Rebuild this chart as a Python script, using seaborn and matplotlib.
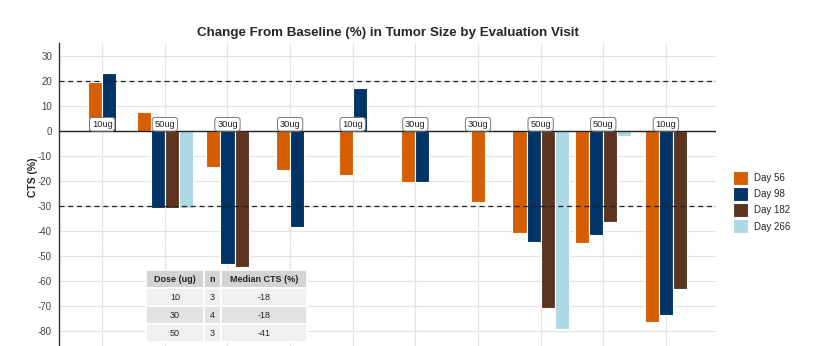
import numpy as np
import pandas as pd
import matplotlib
matplotlib.use("Agg")
import matplotlib.pyplot as plt
import seaborn as sns

# ---- data ----
doses = ["10ug", "50ug", "30ug", "30ug", "10ug", "30ug", "30ug", "50ug", "50ug", "10ug"]
days = ["Day 56", "Day 98", "Day 182", "Day 266"]
day56 = [19.5, 7.7, -14.3, -15.6, -17.5, -20.5, -28.4, -40.7, -44.9, -76.5]
day98 = [23.1, -30.9, -53.3, -38.3, 17.3, -20.5, np.nan, -44.4, -41.7, -73.5]
day182 = [np.nan, -30.9, -54.5, np.nan, np.nan, np.nan, np.nan, -70.7, -36.3, -63.3]
day266 = [np.nan, -30.9, np.nan, np.nan, np.nan, np.nan, np.nan, -79.1, -2.0, np.nan]
colors = ["#D55E00", "#003366", "#5C3420", "#ADD8E6"]
y_ticks = list(range(-80, 31, 10))
thresholds = [20, -30]
tbl_cols = ["Dose (ug)", "n", "Median CTS (%)"]
tbl_dose = ["10", "30", "50"]
tbl_n = ["3", "4", "3"]
tbl_median = ["-18", "-18", "-41"]

series = [day56, day98, day182, day266]
slot = 0.225
rows = []
for i in range(len(doses)):
    present = [k for k in range(len(days)) if not np.isnan(series[k][i])]
    n = len(present)
    for r, k in enumerate(present):
        rows.append({"x": (i + 1) + (r - (n - 1) / 2) * slot,
                     "value": series[k][i], "day": days[k]})
df = pd.DataFrame(rows)

sns.set_theme(style="whitegrid")
plt.rcParams["font.family"] = ["Liberation Sans", "DejaVu Sans"]

fig = plt.figure(figsize=(8.15, 3.46), dpi=100)
ax = fig.add_axes([59 / 815, 0.0, (716 - 59) / 815, 1 - 43 / 346])

sns.barplot(data=df, x="x", y="value", hue="day", hue_order=days,
            palette=colors, saturation=1, native_scale=True, dodge=False,
            width=1.0, edgecolor="white", linewidth=0.8, ax=ax,
            errorbar=None, zorder=3)

ax.set_xlim(0.31, 10.8)
ax.set_ylim(-86, 35.2)
ax.set_xticks(range(1, len(doses) + 1))
ax.set_xticklabels([])
ax.set_yticks(y_ticks)
ax.set_yticklabels([str(v) for v in y_ticks], fontsize=7, color="#444444")
ax.tick_params(axis="y", length=3, color="#444444", width=0.8, pad=2)
ax.tick_params(axis="x", length=0)
ax.grid(True, color="#e3e3e3", linewidth=0.9, zorder=0)
ax.set_axisbelow(True)
for s in ["top", "right", "bottom"]:
    ax.spines[s].set_visible(False)
ax.spines["left"].set_color("#333333")
ax.spines["left"].set_linewidth(1.0)

ax.axhline(0, color="#222222", linewidth=1.0, zorder=4)
for t in thresholds:
    ax.axhline(t, color="#222222", linewidth=0.9, linestyle=(0, (4, 3)), zorder=4)

for i, d in enumerate(doses):
    ax.text(i + 1, 0.9, d, ha="center", va="bottom", fontsize=6.7, zorder=6,
            bbox=dict(boxstyle="round,pad=0.25,rounding_size=0.3",
                      facecolor="white", edgecolor="#777777", linewidth=0.7))

ax.set_xlabel("")
ax.set_ylabel("CTS (%)", fontsize=7.5, fontweight="bold")
ax.yaxis.set_label_coords(-0.032, 0.558)
ax.set_title("Change From Baseline (%) in Tumor Size by Evaluation Visit",
             fontsize=9.6, fontweight="bold", pad=5)

sns.move_legend(ax, "center left", bbox_to_anchor=(1.012, 0.475), frameon=False,
                title=None, fontsize=7, handlelength=1.55, handleheight=1.85,
                labelspacing=0.22, handletextpad=0.6)

# summary table
cell_text = [[a, b, c] for a, b, c in zip(tbl_dose, tbl_n, tbl_median)]
tab = ax.table(cellText=cell_text, colLabels=tbl_cols, cellLoc="center",
               colWidths=[0.354, 0.106, 0.528],
               bbox=[(146 - 59) / 657, (346 - 342) / 303,
                     (307 - 146) / 657, (342 - 270) / 303])
tab.auto_set_font_size(False)
tab.set_fontsize(6.5)
tab.set_zorder(7)
row_bg = ["#d4d4d4", "#f0f0f0", "#e2e2e2", "#f0f0f0"]
for (r, c), cell in tab.get_celld().items():
    cell.set_facecolor(row_bg[r])
    cell.set_edgecolor("white")
    cell.set_linewidth(1.2)
    if r == 0:
        cell.get_text().set_fontweight("bold")

fig.savefig("out.png", dpi=100)
